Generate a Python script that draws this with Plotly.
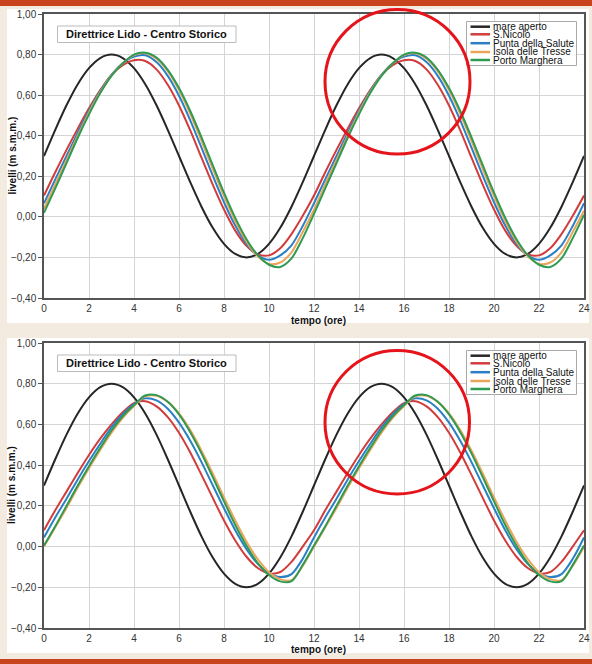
import plotly.graph_objects as go

# ---------------- data ----------------
hours = [0, 0.5, 1, 1.5, 2, 2.5, 3, 3.5, 4, 4.5, 5, 5.5, 6, 6.5, 7, 7.5, 8, 8.5, 9, 9.5, 10, 10.5, 11, 11.5,
         12, 12.5, 13, 13.5, 14, 14.5, 15, 15.5, 16, 16.5, 17, 17.5, 18, 18.5, 19, 19.5, 20, 20.5, 21, 21.5,
         22, 22.5, 23, 23.5, 24]
x_tick_vals = [0, 2, 4, 6, 8, 10, 12, 14, 16, 18, 20, 22, 24]
y_tick_vals = [-0.4, -0.2, 0.0, 0.2, 0.4, 0.6, 0.8, 1.0]
series_names = ["mare aperto", "S.Nicolò", "Punta della Salute", "Isola delle Tresse", "Porto Marghera"]
chart_title = "Direttrice Lido - Centro Storico"
x_title = "tempo (ore)"
y_title = "livelli (m s.m.m.)"

# upper chart (levels, m)
top_mare_aperto = [0.30, 0.429, 0.55, 0.654, 0.733, 0.783, 0.80, 0.783, 0.733, 0.654, 0.55, 0.429,
                   0.30, 0.171, 0.05, -0.054, -0.133, -0.183, -0.20, -0.183, -0.133, -0.054, 0.05, 0.171,
                   0.30, 0.429, 0.55, 0.654, 0.733, 0.783, 0.80, 0.783, 0.733, 0.654, 0.55, 0.429,
                   0.30, 0.171, 0.05, -0.054, -0.133, -0.183, -0.20, -0.183, -0.133, -0.054, 0.05, 0.171,
                   0.30]
top_s_nicolo = [0.105, 0.22, 0.33, 0.435, 0.535, 0.625, 0.70, 0.748, 0.772, 0.768, 0.727, 0.651,
                0.549, 0.426, 0.292, 0.159, 0.036, -0.068, -0.143, -0.185, -0.19, -0.155, -0.085, 0.005,
                0.105, 0.22, 0.33, 0.435, 0.535, 0.625, 0.70, 0.748, 0.772, 0.768, 0.727, 0.651,
                0.549, 0.426, 0.292, 0.159, 0.036, -0.068, -0.143, -0.185, -0.19, -0.155, -0.085, 0.005,
                0.105]
top_punta_salute = [0.067, 0.185, 0.30, 0.415, 0.525, 0.62, 0.70, 0.757, 0.79, 0.797, 0.763, 0.695,
                    0.597, 0.476, 0.341, 0.203, 0.072, -0.043, -0.133, -0.190, -0.212, -0.19, -0.14, -0.045,
                    0.067, 0.185, 0.30, 0.415, 0.525, 0.62, 0.70, 0.757, 0.79, 0.797, 0.763, 0.695,
                    0.597, 0.476, 0.341, 0.203, 0.072, -0.043, -0.133, -0.190, -0.212, -0.19, -0.14, -0.045,
                    0.067]
top_isola_tresse = [0.04, 0.16, 0.28, 0.40, 0.515, 0.615, 0.698, 0.757, 0.797, 0.807, 0.780, 0.718,
                    0.625, 0.508, 0.375, 0.237, 0.102, -0.021, -0.122, -0.194, -0.232, -0.225, -0.175, -0.075,
                    0.035, 0.16, 0.28, 0.40, 0.515, 0.615, 0.698, 0.757, 0.797, 0.807, 0.780, 0.718,
                    0.625, 0.508, 0.375, 0.237, 0.102, -0.021, -0.122, -0.194, -0.232, -0.225, -0.175, -0.075,
                    0.03]
top_porto_marghera = [0.02, 0.14, 0.265, 0.39, 0.505, 0.61, 0.695, 0.757, 0.80, 0.809, 0.785, 0.725,
                      0.635, 0.522, 0.392, 0.255, 0.119, -0.005, -0.110, -0.189, -0.236, -0.247, -0.205, -0.105,
                      0.015, 0.14, 0.265, 0.39, 0.505, 0.61, 0.695, 0.757, 0.80, 0.809, 0.785, 0.725,
                      0.635, 0.522, 0.392, 0.255, 0.119, -0.005, -0.110, -0.189, -0.236, -0.247, -0.205, -0.105,
                      0.01]

# lower chart (levels, m)
bot_mare_aperto = [0.30, 0.429, 0.55, 0.654, 0.733, 0.783, 0.80, 0.783, 0.733, 0.654, 0.55, 0.429,
                   0.30, 0.171, 0.05, -0.054, -0.133, -0.183, -0.20, -0.183, -0.133, -0.054, 0.05, 0.171,
                   0.30, 0.429, 0.55, 0.654, 0.733, 0.783, 0.80, 0.783, 0.733, 0.654, 0.55, 0.429,
                   0.30, 0.171, 0.05, -0.054, -0.133, -0.183, -0.20, -0.183, -0.133, -0.054, 0.05, 0.171,
                   0.30]
bot_s_nicolo = [0.08, 0.178, 0.27, 0.362, 0.45, 0.53, 0.60, 0.66, 0.705, 0.714, 0.689, 0.636,
                0.559, 0.462, 0.352, 0.239, 0.128, 0.030, -0.050, -0.105, -0.132, -0.125, -0.075, 0.0,
                0.08, 0.178, 0.27, 0.362, 0.45, 0.53, 0.60, 0.66, 0.705, 0.714, 0.689, 0.636,
                0.559, 0.462, 0.352, 0.239, 0.128, 0.030, -0.050, -0.105, -0.132, -0.125, -0.075, 0.0,
                0.08]
bot_punta_salute = [0.045, 0.143, 0.235, 0.33, 0.42, 0.505, 0.585, 0.65, 0.70, 0.728, 0.718, 0.677,
                    0.609, 0.520, 0.415, 0.301, 0.188, 0.080, -0.013, -0.085, -0.132, -0.15, -0.135, -0.06,
                    0.045, 0.143, 0.235, 0.33, 0.42, 0.505, 0.585, 0.65, 0.70, 0.728, 0.718, 0.677,
                    0.609, 0.520, 0.415, 0.301, 0.188, 0.080, -0.013, -0.085, -0.132, -0.15, -0.135, -0.06,
                    0.045]
bot_isola_tresse = [0.0, 0.095, 0.19, 0.29, 0.385, 0.475, 0.56, 0.632, 0.69, 0.738, 0.741, 0.711,
                    0.654, 0.572, 0.471, 0.359, 0.241, 0.128, 0.024, -0.062, -0.126, -0.160, -0.165, -0.095,
                    0.0, 0.095, 0.19, 0.29, 0.385, 0.475, 0.56, 0.632, 0.69, 0.738, 0.741, 0.711,
                    0.654, 0.572, 0.471, 0.359, 0.241, 0.128, 0.024, -0.062, -0.126, -0.160, -0.165, -0.095,
                    0.0]
bot_porto_marghera = [0.005, 0.10, 0.20, 0.30, 0.395, 0.485, 0.57, 0.64, 0.695, 0.742, 0.744, 0.711,
                      0.649, 0.562, 0.458, 0.341, 0.222, 0.106, 0.004, -0.081, -0.140, -0.171, -0.17, -0.09,
                      0.005, 0.10, 0.20, 0.30, 0.395, 0.485, 0.57, 0.64, 0.695, 0.742, 0.744, 0.711,
                      0.649, 0.562, 0.458, 0.341, 0.222, 0.106, 0.004, -0.081, -0.140, -0.171, -0.17, -0.09,
                      0.005]

top_series = [top_mare_aperto, top_s_nicolo, top_punta_salute, top_isola_tresse, top_porto_marghera]
bot_series = [bot_mare_aperto, bot_s_nicolo, bot_punta_salute, bot_isola_tresse, bot_porto_marghera]

# ---------------- styling ----------------
W, H = 592, 664
colors = ["#262626", "#d23c3c", "#2b80c5", "#eaa55a", "#2f9a52"]
FONT = "Liberation Sans, Arial, sans-serif"


def px(x):
    return x / W


def py(y):
    return 1 - y / H


fig = go.Figure()
for vals, name, col in zip(top_series, series_names, colors):
    fig.add_trace(go.Scatter(x=hours, y=vals, name=name, mode="lines",
                             line=dict(color=col, width=2, shape="spline", smoothing=0.8),
                             xaxis="x", yaxis="y", showlegend=False))
for vals, name, col in zip(bot_series, series_names, colors):
    fig.add_trace(go.Scatter(x=hours, y=vals, name=name, mode="lines",
                             line=dict(color=col, width=2, shape="spline", smoothing=0.8),
                             xaxis="x2", yaxis="y2", showlegend=False))

panels = [
    dict(top=14, bottom=298, white=(9, 323)),
    dict(top=343, bottom=628, white=(338, 653)),
]
plot_left, plot_right = 44, 584

axis_common = dict(showgrid=True, gridcolor="#d4d4d4", gridwidth=1, zeroline=False,
                   showline=True, linecolor="#555555", linewidth=1.5, mirror=True,
                   automargin=False,
                   tickfont=dict(family=FONT, size=10, color="#333333"))

layout = dict(
    width=W, height=H, autosize=False,
    margin=dict(l=0, r=0, t=0, b=0, pad=0, autoexpand=False),
    paper_bgcolor="#f3ebdf", plot_bgcolor="#ffffff",
    separators=",.",
    font=dict(family=FONT, size=10, color="#222222"),
    showlegend=False,
)

shapes = []
annotations = []
for i, p in enumerate(panels):
    sx = "" if i == 0 else "2"
    layout["xaxis" + sx] = dict(axis_common, domain=[px(plot_left), px(plot_right)],
                                range=[0, 24], tickvals=x_tick_vals, ticks="",
                                anchor="y" + sx)
    layout["yaxis" + sx] = dict(axis_common, domain=[py(p["bottom"]), py(p["top"])],
                                range=[-0.4, 1.0], tickvals=y_tick_vals, tickformat=".2f",
                                ticks="outside", ticklen=4, tickcolor="#555555",
                                anchor="x" + sx)
    off = p["top"] - 14
    shapes.append(dict(type="rect", xref="paper", yref="paper", layer="below",
                       x0=px(7), x1=px(589), y0=py(p["white"][1]), y1=py(p["white"][0]),
                       fillcolor="#ffffff", line=dict(width=0)))
    shapes.append(dict(type="rect", xref="paper", yref="paper", layer="above",
                       x0=px(57.5), x1=px(236), y0=py(42.5 + off), y1=py(26 + off),
                       fillcolor="#ffffff", line=dict(color="#bbbbbb", width=1)))
    annotations.append(dict(xref="paper", yref="paper", x=px(146.5), y=py(34.3 + off),
                            xanchor="center", yanchor="middle", showarrow=False,
                            text="<b>" + chart_title + "</b>",
                            font=dict(family=FONT, size=11, color="#111111")))
    shapes.append(dict(type="rect", xref="paper", yref="paper", layer="above",
                       x0=px(466.5), x1=px(576.5), y0=py(65.5 + off), y1=py(21.5 + off),
                       fillcolor="#ffffff", line=dict(color="#aaaaaa", width=1)))
    entry_y = [26.7, 34.3, 43.2, 52.0, 60.0]
    for ey, name, col in zip(entry_y, series_names, colors):
        shapes.append(dict(type="line", xref="paper", yref="paper", layer="above",
                           x0=px(470.5), x1=px(490), y0=py(ey + off), y1=py(ey + off),
                           line=dict(color=col, width=2.5)))
        annotations.append(dict(xref="paper", yref="paper", x=px(490.5), y=py(ey + off),
                                xanchor="left", yanchor="middle", showarrow=False,
                                text=name, font=dict(family=FONT, size=10, color="#111111")))
    annotations.append(dict(xref="paper", yref="paper", x=px(318), y=py(320 + off),
                            xanchor="center", yanchor="middle", showarrow=False,
                            text="<b>" + x_title + "</b>",
                            font=dict(family=FONT, size=10, color="#111111")))
    annotations.append(dict(xref="paper", yref="paper", x=px(11.5), y=py((p["top"] + p["bottom"]) / 2),
                            xanchor="center", yanchor="middle", showarrow=False, textangle=-90,
                            text="<b>" + y_title + "</b>",
                            font=dict(family=FONT, size=10, color="#111111")))

shapes.append(dict(type="circle", xref="paper", yref="paper", layer="above",
                   x0=px(325), x1=px(470), y0=py(154), y1=py(9.5),
                   line=dict(color="#e5141b", width=3)))
shapes.append(dict(type="circle", xref="paper", yref="paper", layer="above",
                   x0=px(325), x1=px(469.5), y0=py(494), y1=py(350.5),
                   line=dict(color="#e5141b", width=3)))
shapes.append(dict(type="rect", xref="paper", yref="paper", layer="above",
                   x0=0, x1=1, y0=py(6), y1=1, fillcolor="#c8441c", line=dict(width=0)))
shapes.append(dict(type="rect", xref="paper", yref="paper", layer="above",
                   x0=0, x1=1, y0=0, y1=py(659), fillcolor="#c8441c", line=dict(width=0)))

layout["shapes"] = shapes
layout["annotations"] = annotations
fig.update_layout(**layout)

fig.write_html("out.html", config={"displayModeBar": False, "responsive": False})

with open("out.html", "r", encoding="utf-8") as f:
    page = f.read()
style = ("<style>html,body{margin:0;padding:0;overflow:hidden;background:#f3ebdf;}"
         ".plotly-graph-div{position:absolute;top:0;left:0;}</style>")
page = page.replace("<head>", "<head>" + style, 1)
with open("out.html", "w", encoding="utf-8") as f:
    f.write(page)
